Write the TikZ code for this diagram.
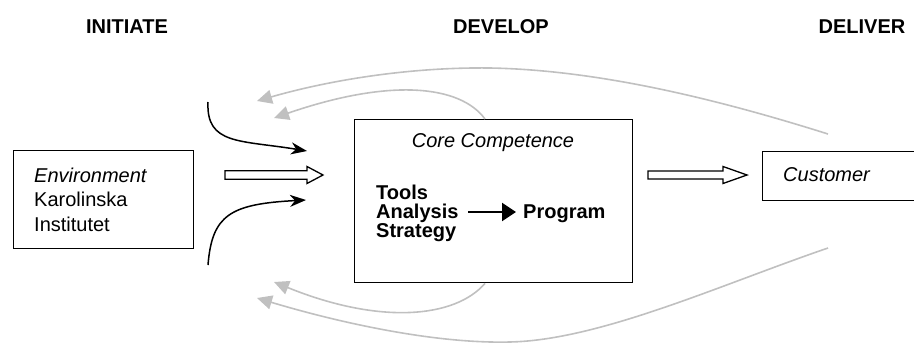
\documentclass[tikz,border=0pt]{standalone}
\usepackage{fontspec}
\setmainfont{Liberation Sans}
\usetikzlibrary{arrows.meta,calc}
\definecolor{fbgray}{RGB}{192,192,192}
\begin{document}
\begin{tikzpicture}[x=1pt,y=-1pt,
  box/.style={draw,line width=1.4pt,inner sep=0pt,anchor=north west},
  lbl/.style={inner sep=0pt,anchor=base west,font=\fontsize{20}{24}\selectfont},
  ttl/.style={inner sep=0pt,anchor=base,font=\fontsize{20}{24}\selectfont\bfseries},
  bld/.style={lbl,font=\fontsize{20}{24}\selectfont\bfseries},
  hollow/.style={draw,line width=1.3pt,fill=white},
  inarrow/.style={draw,line width=1.5pt,-{Stealth[length=16pt,width=12pt,inset=5pt]}},
  fbarrow/.style={draw=fbgray,line width=1.6pt,-{Triangle[length=15pt,width=14pt,fill=fbgray]}},
  corearrow/.style={draw,line width=2.4pt,-{Triangle[length=14pt,width=18pt]}}
]
\path[use as bounding box] (0,0) rectangle (914,343);
\clip (0,0) rectangle (914,343);

% titles
\node[ttl] (t1) at (127,33) {INITIATE};
\node[ttl] (t2) at (501,33) {DEVELOP};
\node[ttl] (t3) at (862,33) {DELIVER};

% boxes
\node[box,minimum width=180pt,minimum height=98pt] (env) at (13,150) {};
\node[box,minimum width=278pt,minimum height=163pt] (core) at (354,119) {};
\node[box,minimum width=170pt,minimum height=49pt] (cust) at (762,151) {};

% texts
\node[lbl] (e1) at (34,182) {\itshape Environment};
\node[lbl] (e2) at (34,206) {Karolinska};
\node[lbl] (e3) at (34,231) {Institutet};
\node[lbl,anchor=base] (cc) at (493,147) {\itshape Core Competence};
\node[lbl] (cu) at (783,181) {\itshape Customer};
\node[bld] (tools) at (376,199) {Tools};
\node[bld] (ana) at (376,218) {Analysis};
\node[bld] (strat) at (376,237) {Strategy};
\node[bld] (prog) at (523,218) {Program};

% inner arrow
\coordinate (a0) at (468,212);
\coordinate (a1) at (516,212);
\draw[corearrow] (a0) -- (a1);

% hollow arrows
\draw[hollow] (225,170.7) -- (307,170.7) -- (307,166.5) -- (323,175) -- (307,183.5) -- (307,179.3) -- (225,179.3) -- cycle;
\draw[hollow] (648,171) -- (723,171) -- (723,166.5) -- (747,175) -- (723,183.5) -- (723,179) -- (648,179) -- cycle;

% black curved input arrows
\coordinate (b0) at (208,102);
\coordinate (b1) at (307,151);
\coordinate (c0) at (208,265);
\coordinate (c1) at (306,200);
\draw[inarrow] (b0) .. controls (206,145) and (240,140) .. (b1);
\draw[inarrow] (c0) .. controls (212,215) and (230,204) .. (c1);

% gray feedback arrows
\coordinate (g1s) at (828,134);
\coordinate (g1e) at (257,101);
\coordinate (g2s) at ($(core.north west)+(131,0)$);
\coordinate (g2e) at (274,118);
\coordinate (g3s) at ($(core.south west)+(131,0)$);
\coordinate (g3e) at (274,282);
\coordinate (g4s) at (828,248);
\coordinate (g4e) at (257,298);
\draw[fbarrow] (g1s) .. controls (720,100) and (600,70) .. (490,68) .. controls (410,67) and (330,80) .. (g1e);
\draw[fbarrow] (g2s) .. controls (460,85) and (390,78) .. (g2e);
\draw[fbarrow] (g3s) .. controls (455,318) and (380,325) .. (g3e);
\draw[fbarrow] (g4s) .. controls (720,285) and (600,340) .. (510,342) .. controls (430,344) and (330,320) .. (g4e);
\end{tikzpicture}
\end{document}
